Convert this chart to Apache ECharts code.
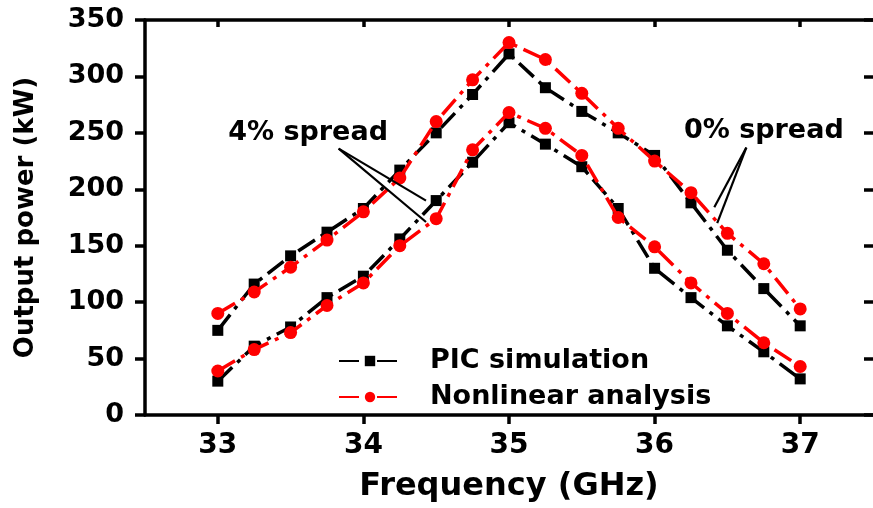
<!DOCTYPE html>
<html>
<head>
<meta charset="utf-8">
<script src="https://cdn.jsdelivr.net/npm/echarts@6/dist/echarts.min.js"></script>
<style>html,body{margin:0;padding:0;background:#fff;}#c{width:873px;height:508px;}</style>
</head>
<body>
<div id="c"></div>
<script>
// Data
const freq = [33, 33.25, 33.5, 33.75, 34, 34.25, 34.5, 34.75, 35, 35.25, 35.5, 35.75, 36, 36.25, 36.5, 36.75, 37];
const pic0 = [75, 116, 141, 162, 183, 217, 250, 284, 320, 290, 269, 250, 230, 188, 146, 112, 79];
const nla0 = [90, 109, 131, 155, 180, 210, 260, 297, 330, 315, 285, 254, 225, 197, 161, 134, 94];
const pic4 = [30, 61, 78, 104, 123, 156, 190, 224, 259, 240, 220, 183, 130, 104, 79, 56, 32];
const nla4 = [39, 58, 73, 97, 117, 150, 174, 235, 268, 254, 230, 175, 149, 117, 90, 64, 43];
const xTicks = [33, 34, 35, 36, 37];
const seriesNames = ['PIC simulation', 'Nonlinear analysis'];
const annoText = ['4% spread', '0% spread'];

const FONT = 'DejaVu Sans';
const pair = (ys) => freq.map((x, i) => [x, ys[i]]);
const dash = [20, 7, 4, 7];

function lineSeries(name, ys, color, symbol, size) {
  return {
    name: name, type: 'line', data: pair(ys), xAxisIndex: 0, yAxisIndex: 0,
    symbol: symbol, symbolSize: size, showSymbol: true,
    itemStyle: { color: color },
    lineStyle: { color: color, width: 3.5, type: dash },
    z: color === '#000' ? 3 : 4
  };
}

const chart = echarts.init(document.getElementById('c'), null, { renderer: 'canvas' });
chart.setOption({
  animation: false,
  backgroundColor: '#fff',
  grid: { left: 145, top: 20, width: 730, height: 395, containLabel: false },
  legend: {
    data: seriesNames,
    orient: 'vertical', left: 333, top: 341, itemGap: 6,
    itemWidth: 62, itemHeight: 13,
    textStyle: { fontFamily: FONT, fontWeight: 'bold', fontSize: 27, color: '#000', lineHeight: 30, padding: [0, 0, 0, 24] }
  },
  xAxis: [{
    type: 'value', min: 32.5, max: 37.5, position: 'bottom',
    name: 'Frequency (GHz)', nameLocation: 'middle', nameGap: 56,
    nameTextStyle: { fontFamily: FONT, fontWeight: 'bold', fontSize: 32, color: '#000' },
    axisLine: { show: true, onZero: false, lineStyle: { color: '#000', width: 3.5 } },
    axisTick: { show: true, inside: false, length: 9, customValues: xTicks, lineStyle: { color: '#000', width: 3.5 } },
    axisLabel: { show: true, customValues: xTicks, margin: 17, fontFamily: FONT, fontWeight: 'bold', fontSize: 28, color: '#000' },
    splitLine: { show: false }
  }, {
    type: 'value', min: 32.5, max: 37.5, position: 'top',
    axisLine: { show: true, onZero: false, lineStyle: { color: '#000', width: 3.5 } },
    axisTick: { show: true, inside: true, length: 7, customValues: xTicks, lineStyle: { color: '#000', width: 3.5 } },
    axisLabel: { show: false },
    splitLine: { show: false }
  }],
  yAxis: [{
    type: 'value', min: 0, max: 350, interval: 50, position: 'left',
    name: 'Output power (kW)', nameLocation: 'middle', nameGap: 106,
    nameTextStyle: { fontFamily: FONT, fontWeight: 'bold', fontSize: 26, color: '#000' },
    axisLine: { show: true, onZero: false, lineStyle: { color: '#000', width: 3.5 } },
    axisTick: { show: true, inside: false, length: 10, lineStyle: { color: '#000', width: 3.5 } },
    axisLabel: { show: true, margin: 21, fontFamily: FONT, fontWeight: 'bold', fontSize: 27, color: '#000' },
    splitLine: { show: false }
  }, {
    type: 'value', min: 0, max: 350, interval: 50, position: 'right',
    axisLine: { show: false },
    axisTick: { show: true, inside: true, length: 9, lineStyle: { color: '#000', width: 3.5 } },
    axisLabel: { show: false },
    splitLine: { show: false }
  }],
  series: [
    lineSeries(seriesNames[0], pic0, '#000', 'rect', 11),
    lineSeries(seriesNames[1], nla0, '#ff0000', 'circle', 13),
    lineSeries(seriesNames[0], pic4, '#000', 'rect', 11),
    lineSeries(seriesNames[1], nla4, '#ff0000', 'circle', 13),
    {
      name: 'annotations', type: 'scatter', data: [], xAxisIndex: 0, yAxisIndex: 0,
      silent: true, z: 6,
      markLine: {
        silent: true, symbol: ['none', 'arrow'], symbolSize: [0, 14],
        lineStyle: { color: '#000', width: 2.2, type: 'solid' },
        label: { show: false },
        data: [
          [{ coord: [33.83, 236] }, { coord: [34.43, 190] }],
          [{ coord: [33.83, 236] }, { coord: [34.43, 171] }],
          [{ coord: [36.63, 237] }, { coord: [36.41, 184] }],
          [{ coord: [36.63, 237] }, { coord: [36.43, 170] }]
        ]
      },
      markPoint: {
        silent: true, symbol: 'circle', symbolSize: 1,
        itemStyle: { color: 'rgba(0,0,0,0)' },
        label: { show: true, position: 'inside', fontFamily: FONT, fontWeight: 'bold', fontSize: 27, color: '#000' },
        data: [
          { coord: [33.62, 250], label: { formatter: annoText[0] } },
          { coord: [36.75, 252], label: { formatter: annoText[1] } }
        ]
      }
    }
  ]
});
</script>
</body>
</html>
